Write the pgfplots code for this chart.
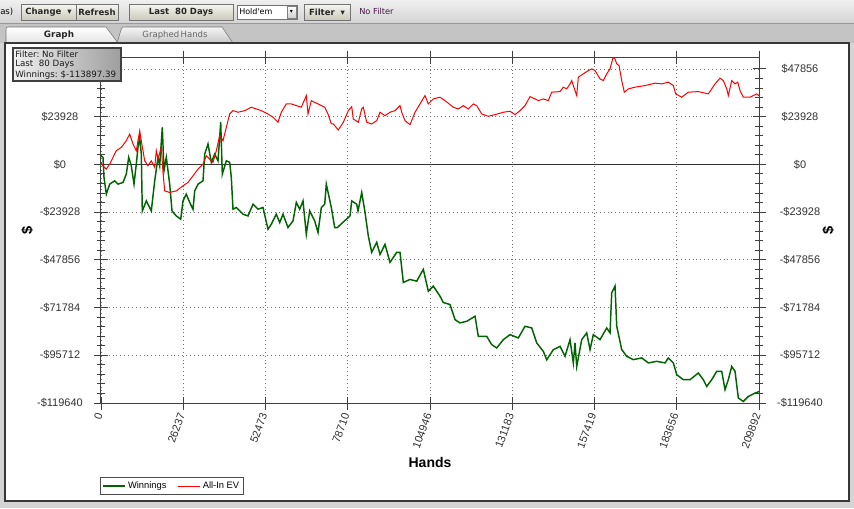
\documentclass[border=0pt]{standalone}
\usepackage{fontspec}
\setmainfont{Liberation Sans}
\newfontfamily\verd{DejaVu Sans}
\usepackage{pgfplots}
\pgfplotsset{compat=1.18}
\definecolor{win}{RGB}{0,100,0}
\definecolor{ev}{RGB}{255,0,0}
\definecolor{barbg}{RGB}{212,212,212}
\definecolor{btn}{RGB}{226,224,208}
\definecolor{tabrow}{RGB}{196,196,196}
\definecolor{frame}{RGB}{55,55,55}
\definecolor{nof}{RGB}{70,20,70}

% toolbar button: x1, x2, label
\newcommand\btn[3]{%
  \shade[top color=btn!30!white, bottom color=btn!90!black, draw=black!55] (#1,4) rectangle (#2,20);
  \node[font=\verd\bfseries\fontsize{6.4}{7}\selectfont, text=black!85] at ({(#1+#2)/2},12) {#3};}

\begin{document}
\begin{tikzpicture}
\begin{scope}[x=0.75pt,y=-0.75pt]
\useasboundingbox (0,0) rectangle (854,508);
\fill[barbg] (0,0) rectangle (854,508);
% toolbar
\shade[top color=black!6, bottom color=black!17] (0,0) rectangle (854,23);
\draw[black!40] (0,23.5) -- (854,23.5);
\node[font=\verd\fontsize{6.4}{7}\selectfont, anchor=west, inner sep=0] at (0,12) {as)};
\btn{21}{76}{Change\ \ ▾}
\btn{76}{118}{Refresh}
\btn{129}{233}{Last\ \ 80 Days}
\draw[black!55, fill=white] (237,5) rectangle (297,19);
\node[font=\verd\fontsize{6}{7}\selectfont, anchor=west, inner sep=0] at (239,12) {Hold'em};
\shade[top color=white, bottom color=black!20, draw=black!50] (287,6) rectangle (296,18);
\node[font=\verd\fontsize{4.5}{5}\selectfont] at (291.5,12) {▾};
\btn{304}{350}{Filter\ \ ▾}
\node[font=\verd\fontsize{6.2}{7}\selectfont, text=nof, anchor=west, inner sep=0] at (359,11) {No Filter};
% tabs
\fill[tabrow] (0,24) rectangle (854,43);
\shade[top color=black!4, bottom color=black!22, draw=black!55]
  (117,43) -- (121,30) .. controls (122,27) .. (126,27) -- (222,27) -- (233,43) -- cycle;
\node[font=\verd\fontsize{6.4}{7}\selectfont, text=black!60] at (175,35) {Graphed\,Hands};
\shade[top color=white, bottom color=black!10, draw=black!55]
  (6,43) -- (6,30) .. controls (6,27) .. (9,27) -- (106,27) -- (118,43) -- cycle;
\node[font=\verd\bfseries\fontsize{6.6}{7}\selectfont, text=black!85] at (59,35) {Graph};
% chart panel
\fill[white] (5,43) rectangle (849,501);
\draw[frame, line width=1.4pt] (5,43) rectangle (849,501);
\end{scope}

\begin{axis}[
  at={(75.75pt,-302.25pt)}, anchor=south west,
  width=493.5pt, height=259.5pt, scale only axis,
  xmin=0, xmax=209892, ymin=-119640, ymax=53838,
  scaled ticks=false,
  xtick={0,26237,52473,78710,104946,131183,157419,183656,209892},
  xticklabels={0,26237,52473,78710,104946,131183,157419,183656,209892},
  ytick={-119640,-95712,-71784,-47856,-23928,0,23928,47856},
  yticklabels={-\$119640,-\$95712,-\$71784,-\$47856,-\$23928,\$0,\$23928,{}},
  minor x tick num=4, minor y tick num=4,
  xtick pos=both, ytick pos=both,
  xticklabel pos=left, yticklabel pos=left,
  tick align=center,
  major tick length=9.75pt, minor tick length=6pt,
  tick style={black!75, line width=0.7pt},
  axis line style={black!75, line width=0.75pt},
  grid=major,
  major grid style={black!55, line width=0.6pt, dash pattern=on 0.7pt off 2.2pt},
  /pgf/number format/assume math mode=true,
  ticklabel style={font=\fontsize{8.25}{9}\selectfont, text=black!80},
  xticklabel style={rotate=70, anchor=east},
  yticklabel style={anchor=center, xshift=-25.9pt},
  xlabel={Hands},
  xlabel style={at={(axis description cs:0.5,-0.173)}, anchor=center,
    font=\bfseries\fontsize{10.5}{12}\selectfont},
  ylabel={\$},
  ylabel style={at={(axis description cs:-0.112,0.5)}, anchor=center,
    font=\bfseries\fontsize{11}{12}\selectfont},
  legend style={at={(axis description cs:-0.0015,-0.214)}, anchor=north west,
    legend columns=2, draw=black!70, line width=0.5pt, fill=white,
    font=\fontsize{7}{8}\selectfont, inner sep=1.2pt,
    /tikz/every even column/.append style={column sep=6pt}},
  legend image code/.code={\draw[#1] (0pt,0pt) -- (16.5pt,0pt);},
]
\draw[black!80, line width=0.75pt] ([xshift=-6.5pt]axis cs:0,0) -- ([xshift=6.5pt]axis cs:209892,0);

\addplot[win, line width=1.1pt] coordinates {
(0,4323) (638,3519) (957,-6535) (1691,-14930) (2775,-9903) (4370,-8244) (5423,-9903)
(7018,-9049) (8071,-4876) (8836,3519) (9666,-704) (10527,-9903) (11261,151) (11803,8546)
(12345,13573) (12856,5178) (13175,-23325) (14451,-18298) (16046,-23325) (17130,-8244)
(18183,3519) (18725,-704) (19555,18600) (20097,-3217) (20831,3519) (21915,-9903)
(22649,-23325) (24021,-25839) (25424,-27498) (26158,-18298) (27211,-14930) (28295,-19103)
(29348,-22469) (29890,-13271) (30943,-9903) (32538,-8244) (33080,5178) (34133,10205)
(35186,1005) (36270,5178) (37323,1810) (38184,21113) (38695,-4876) (39971,1810)
(41055,1005) (41566,-6535) (42108,-22469) (43161,-21616) (44245,-23325) (45298,-24984)
(46893,-25839) (48488,-19957) (50083,-22469) (51678,-21616) (53273,-32525) (54326,-30011)
(55921,-24984) (57005,-29157) (58058,-24984) (59653,-31670) (61248,-28352) (62301,-19103)
(63385,-22469) (64438,-18298) (65491,-35038) (66575,-23325) (68170,-28352) (69223,-34184)
(70276,-21616) (71360,-19957) (71871,-9903) (73466,-21616) (74550,-31670) (75379,-31670)
(77198,-29020) (79431,-25850) (79973,-18310) (81568,-19970) (81983,-23340) (83163,-14080)
(84216,-23990) (85269,-35910) (86353,-44110) (87948,-39080) (89001,-45120) (90596,-40090)
(92191,-49140) (94328,-44110) (95381,-44110) (96433,-59200) (98571,-57690) (100708,-58550)
(102814,-52660) (104409,-63580) (106004,-61060) (108141,-66090) (109194,-69260)
(111331,-70270) (112926,-77810) (114521,-79470) (116658,-78670) (119306,-76150)
(120358,-86210) (123037,-86210) (124632,-90390) (126227,-92050) (128333,-87870)
(130471,-85360) (133118,-87020) (135256,-81180) (137393,-81990) (138988,-89530)
(141094,-93760) (142178,-97940) (144283,-92910) (146421,-91250) (148016,-96270)
(149611,-87870) (150664,-99600) (151206,-89530) (151748,-101300) (153343,-87870)
(154938,-84500) (155991,-92910) (157043,-85360) (159181,-87870) (161318,-81990)
(162371,-84500) (162913,-64380) (163966,-61010) (164508,-81130) (166103,-92860)
(167698,-96220) (169803,-97890) (172483,-97030) (174588,-99550) (177267,-98740)
(179916,-99550) (180968,-97030) (182564,-99550) (183648,-105430) (185754,-107950)
(187891,-107950) (190539,-104580) (192134,-107950) (193218,-111320) (194812,-107950)
(196408,-103770) (198003,-103770) (199056,-112930) (200108,-107900) (201193,-101300)
(202246,-103770) (203299,-117150) (204893,-118860) (206488,-116340) (208626,-114680)
(209892,-113897)
};
\addlegendentry{Winnings}

\addplot[ev, line width=0.75pt] coordinates {
(0,1005) (638,-704) (1691,-2363) (2775,151) (3828,3519) (4881,6837) (6476,8546)
(8071,11864) (9155,15232) (10208,10205) (11261,6837) (12345,16891) (12856,11864)
(13940,1810) (14993,-704) (16046,1810) (17130,-1508) (17641,6837) (18183,2664)
(19236,8546) (19778,-4022) (20320,-13271) (21915,-14076) (24021,-13271) (26158,-10758)
(27753,-9049) (29348,-5731) (30943,-2363) (32538,151) (33591,4323) (34675,2664)
(35728,1005) (36781,6837) (37865,14377) (38918,11864) (39971,18600) (41055,25286)
(42108,26945) (43703,26140) (45840,26945) (47946,28654) (49541,27799) (51136,26945)
(53273,25286) (54868,23627) (56463,21113) (57516,26140) (59111,30313) (60706,30313)
(62301,29458) (63896,28654) (65491,34485) (66033,25286) (67086,31972) (69223,30313)
(71360,28654) (72413,25286) (73466,20259) (74104,20259) (75699,17243) (77294,21113)
(78889,26945) (79973,28956) (80484,22772) (82079,21113) (83163,27799) (83674,28654)
(84758,21113) (86353,20259) (87948,21918) (89001,26140) (90596,24431) (92191,26140)
(93786,26945) (95381,29458) (95923,26140) (96976,21918) (98571,19907) (100166,26140)
(101761,30313) (103356,34485) (104409,30313) (106004,32826) (108141,33681) (109736,31972)
(112384,28654) (113979,27799) (115574,29458) (117169,27799) (118764,30313) (119848,29458)
(121443,25286) (123549,24130) (125686,24934) (128334,26140) (130471,26643) (132066,24934)
(133661,26945) (135256,29458) (136851,33982) (138446,32826) (139500,31972) (141094,32826)
(142689,31972) (143773,36194) (146421,36496) (147474,38708) (148558,37853) (149611,40367)
(150153,42026) (151206,36999) (151748,34485) (152258,43735) (153853,45394) (155448,47053)
(156532,47908) (157586,47053) (159181,42881) (160234,42026) (161318,45394) (162371,47908)
(163232,52935) (163743,53700) (164508,50421) (165242,49567) (166103,42026) (166932,36194)
(168208,37853) (170346,38708) (173536,39512) (176726,40719) (178863,40367) (180969,41221)
(182564,39512) (183329,35340) (185243,33681) (187349,36194) (190539,36496) (193729,35340)
(195866,40367) (197461,43232) (198514,42026) (199598,37853) (200108,34485) (201193,42026)
(202246,40367) (203107,41221) (203841,36999) (204894,33681) (207031,33681) (209168,35340)
(209892,34485)
};
\addlegendentry{All-In EV}
\end{axis}

% right-hand labels
\begin{axis}[
  at={(75.75pt,-302.25pt)}, anchor=south west,
  width=493.5pt, height=259.5pt, scale only axis,
  xmin=0, xmax=209892, ymin=-119640, ymax=53838,
  scaled ticks=false,
  hide x axis, axis y line*=right,
  axis line style={draw=none}, ytick style={draw=none},
  ytick={-119640,-95712,-71784,-47856,-23928,0,23928,47856},
  yticklabels={-\$119640,-\$95712,-\$71784,-\$47856,-\$23928,\$0,\$23928,\$47856},
  yticklabel style={anchor=center, xshift=30.75pt,
    font=\fontsize{8.25}{9}\selectfont, text=black!80},
  ylabel={\$},
  ylabel style={at={(axis description cs:1.105,0.5)}, anchor=center, rotate=0,
    font=\bfseries\fontsize{11}{12}\selectfont},
]
\end{axis}

\begin{scope}[x=0.75pt,y=-0.75pt]
% info box
\shade[left color=black!6, right color=black!38, draw=black!75, line width=0.8pt] (13,48) rectangle (121,81);
\begin{scope}[every node/.style={font=\verd\fontsize{6.5}{7}\selectfont, anchor=west, inner sep=0, text=black!90}]
\node at (15,54) {Filter:\ No Filter};
\node at (15,64.5) {Last\ \ 80 Days};
\node at (15,75) {Winnings:\ \$-113897.39};
\end{scope}
\end{scope}
\end{tikzpicture}
\end{document}
